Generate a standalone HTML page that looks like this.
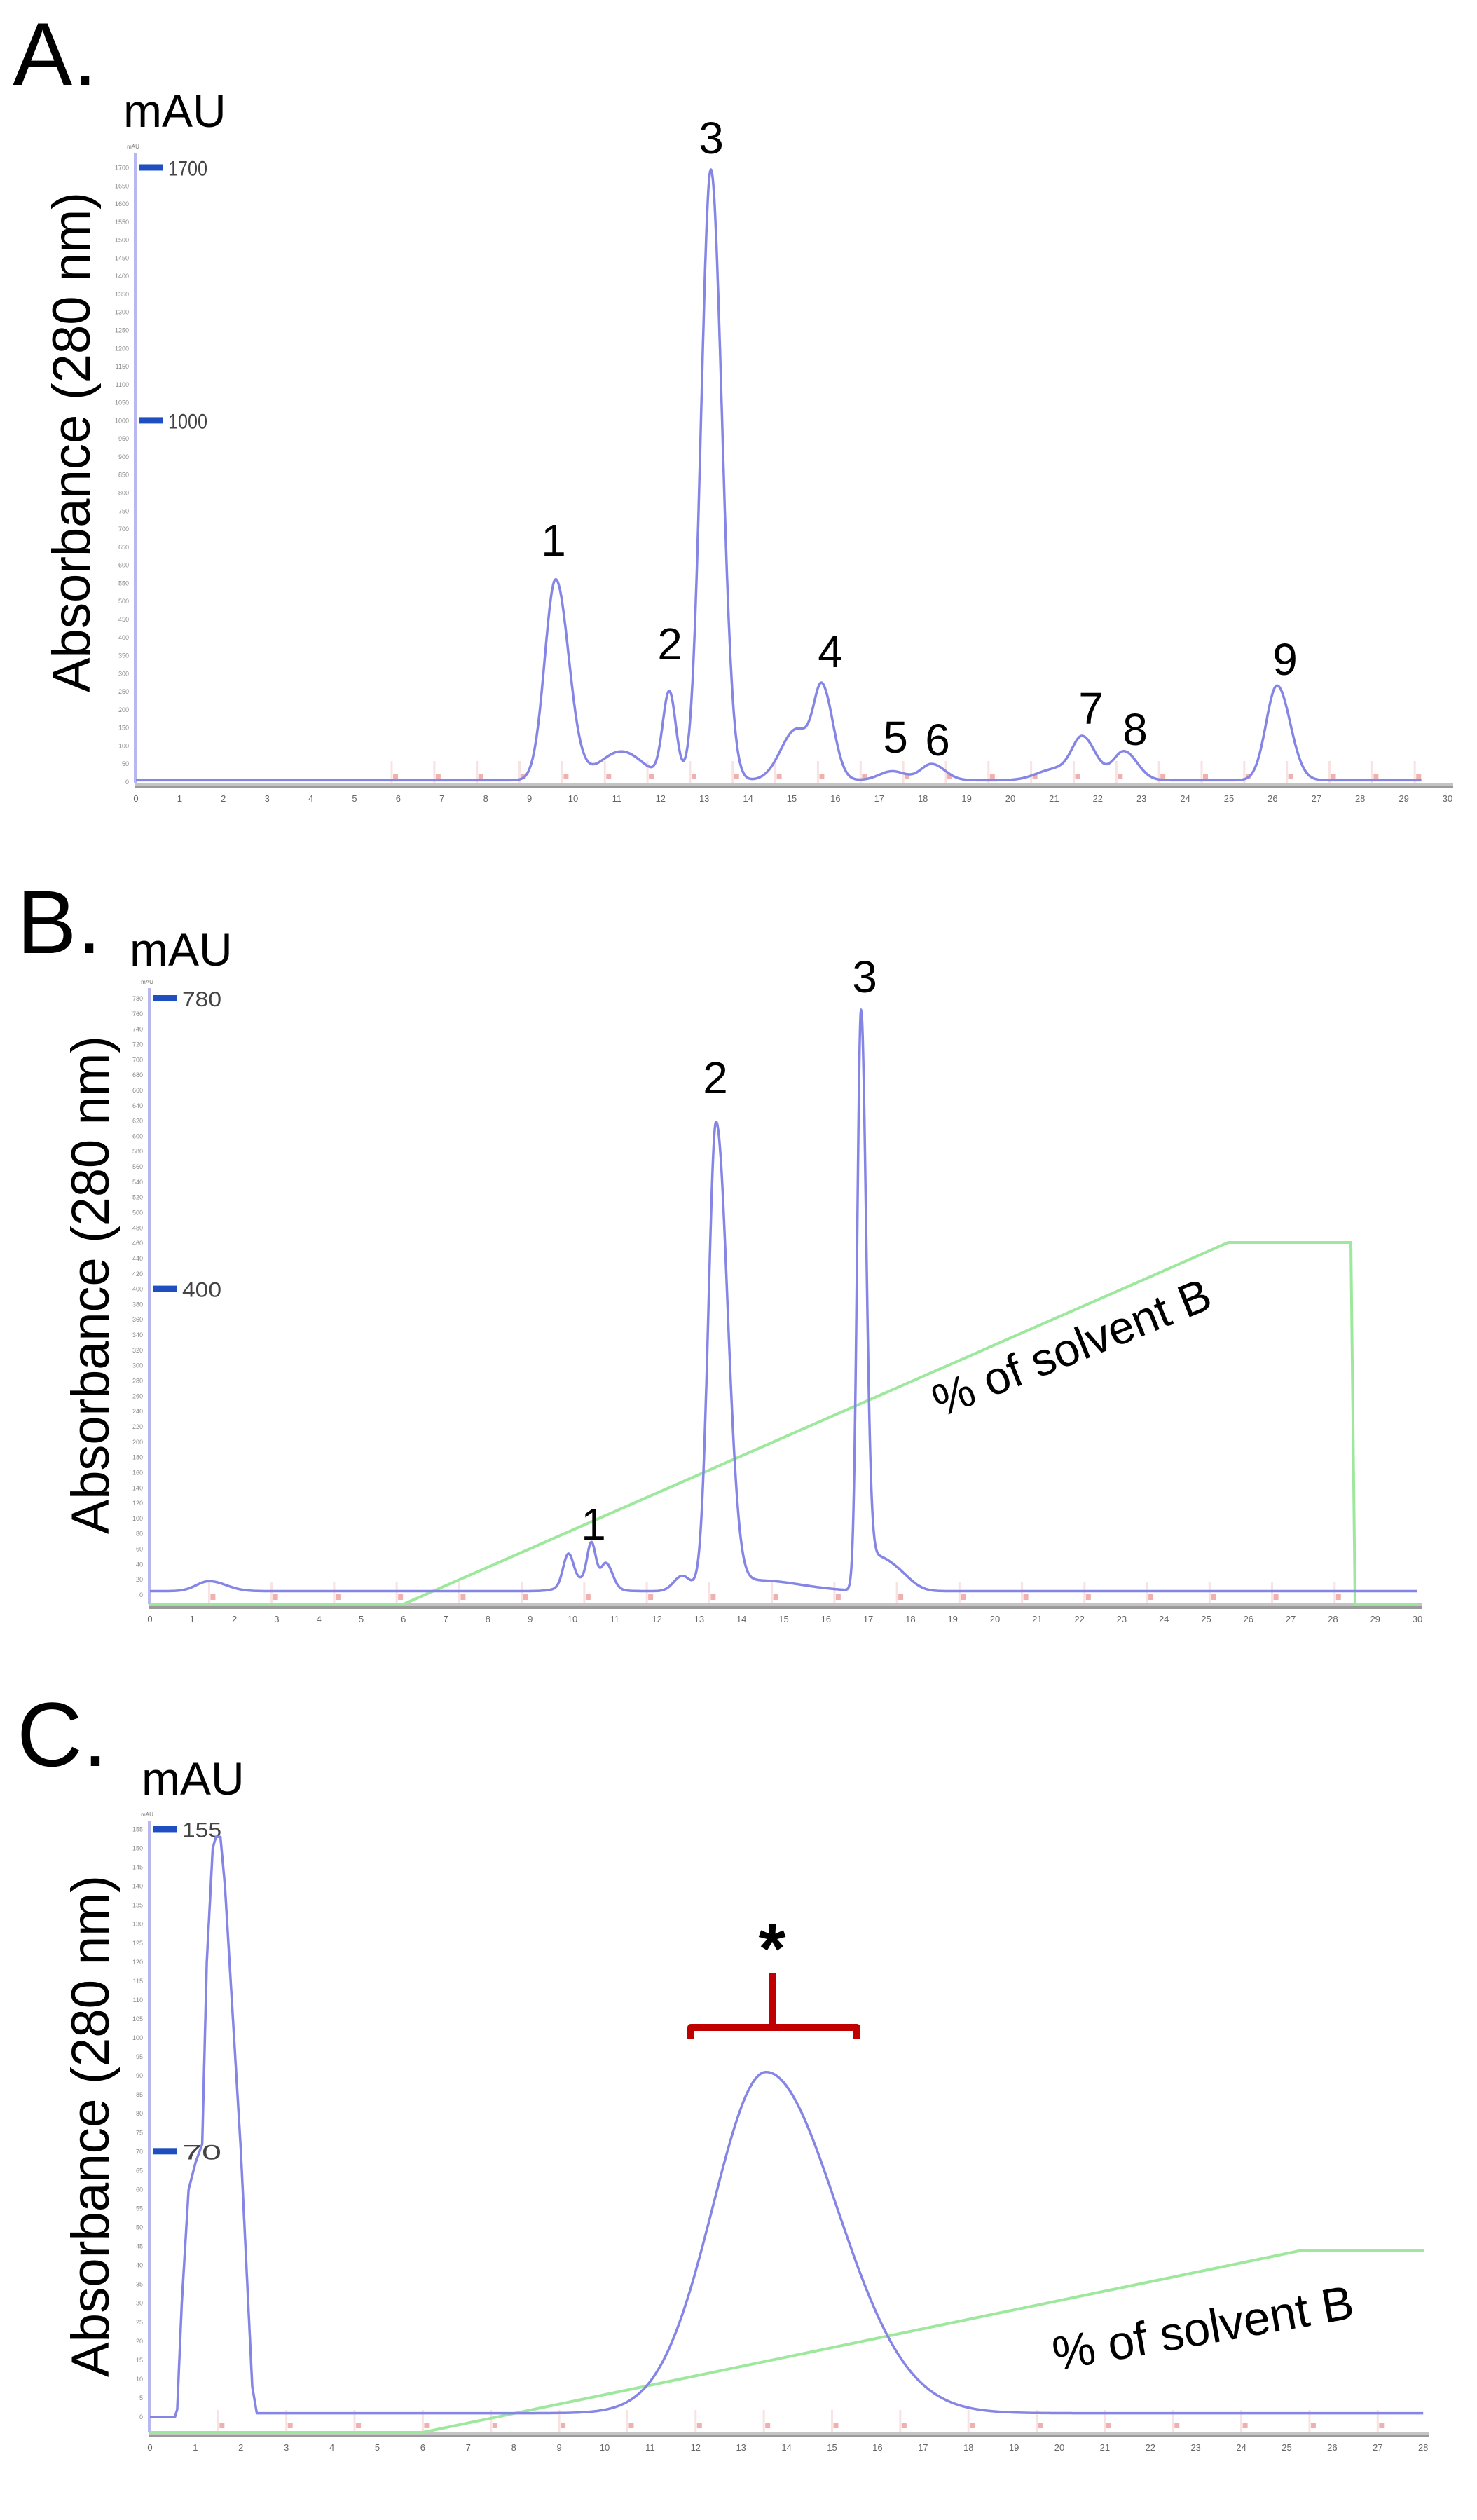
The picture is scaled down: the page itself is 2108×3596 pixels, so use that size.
<!DOCTYPE html>
<html><head><meta charset="utf-8"><style>
html,body{margin:0;padding:0;background:#fff;}
svg{display:block;}
text{font-family:"Liberation Sans",Arial,sans-serif;}
</style></head><body>
<svg id="s" width="2108" height="3596" viewBox="0 0 2108 3596" xmlns="http://www.w3.org/2000/svg">
<rect width="2108" height="3596" fill="#fff"/>
<g id="g"></g>
<text x="18" y="122" font-size="128">A.</text>
<text x="24" y="1360" font-size="128">B.</text>
<text x="24" y="2520" font-size="130">C.</text>
<text x="176" y="181" font-size="66">mAU</text>
<text x="185" y="1378" font-size="66">mAU</text>
<text x="202" y="2561" font-size="66">mAU</text>
<text transform="translate(128,988) rotate(-90)" font-size="76" textLength="714" lengthAdjust="spacingAndGlyphs">Absorbance (280 nm)</text>
<text transform="translate(155,2189) rotate(-90)" font-size="76" textLength="711" lengthAdjust="spacingAndGlyphs">Absorbance (280 nm)</text>
<text transform="translate(155,3392) rotate(-90)" font-size="76" textLength="716" lengthAdjust="spacingAndGlyphs">Absorbance (280 nm)</text>
<g font-size="64" text-anchor="middle">
<text x="790" y="793">1</text>
<text x="956" y="941">2</text>
<text x="1015" y="219">3</text>
<text x="1185" y="952">4</text>
<text x="1278" y="1074">5</text>
<text x="1338" y="1078">6</text>
<text x="1557" y="1033">7</text>
<text x="1620" y="1063">8</text>
<text x="1834" y="963">9</text>
<text x="847" y="2197">1</text>
<text x="1021" y="1560">2</text>
<text x="1234" y="1416">3</text>
</g>
<text transform="translate(1538,1944) rotate(-22)" font-size="66" text-anchor="middle">% of solvent B</text>
<text transform="translate(1721,3345) rotate(-10)" font-size="68" text-anchor="middle">% of solvent B</text>
<path d="M986,2910 L986,2893 L1223,2893 L1223,2910 M1102,2893 L1102,2815" stroke="#c00000" stroke-width="10" fill="none" stroke-linejoin="round"/>
<text x="1102" y="2815" font-size="100" font-weight="bold" text-anchor="middle">*</text>
</svg>
<script>
(function(){
var NS="http://www.w3.org/2000/svg",g=document.getElementById('g');
function el(n,a,t){var e=document.createElementNS(NS,n);for(var k in a)e.setAttribute(k,a[k]);if(t!==undefined)e.textContent=t;g.appendChild(e);return e;}
function asym(t,c){var d=t-c[0],s=d<0?c[2]:c[3];return c[1]*Math.exp(-d*d/(2*s*s));}
function panel(P){
 var X=function(t){return P.x0+t*P.pm;},Y=function(v){return P.y0-v*P.pu;};
 for(var f=P.f0;f<=P.f1;f+=P.fs){var fx=X(f);
  el('line',{x1:fx,y1:P.ax-32,x2:fx,y2:P.ax,stroke:'#f9e2e2','stroke-width':3});
  el('rect',{x:fx+2,y:P.ax-14,width:7,height:8,fill:'#f0b0b0'});}
 el('rect',{x:P.x0-2,y:P.ax-1,width:P.xe-P.x0+6,height:4,fill:'#c4c4c4'});
 el('rect',{x:P.x0-2,y:P.ax+3,width:P.xe-P.x0+6,height:4,fill:'#9a9a9a'});
 for(var i=0;i<=P.nx;i++){el('text',{x:X(i),y:P.ax+26,'font-size':13,fill:'#666','text-anchor':'middle'},String(i));}
 el('rect',{x:P.x0-3,y:P.ytop,width:5,height:P.ax-P.ytop,fill:'#b8b8f0'});
 el('text',{x:P.x0-4,y:P.ytop-6,'font-size':8,fill:'#777','text-anchor':'middle'},'mAU');
 for(var v=0;v<=P.ymax;v+=P.ys){el('text',{x:P.x0-10,y:Y(v)+3,'font-size':9,fill:'#888','text-anchor':'end'},String(v));}
 P.big.forEach(function(v){el('rect',{x:P.x0+5,y:Y(v)-5,width:33,height:9,fill:'#1e4fc0'});
  el('text',{x:P.x0+46,y:Y(v)+11,'font-size':30,fill:'#444',textLength:56,lengthAdjust:'spacingAndGlyphs'},String(v));});
 if(P.green)el('polyline',{points:P.green,fill:'none',stroke:'#9ee89e','stroke-width':4});
 var d='';for(var t=P.t0;t<=P.t1+1e-9;t+=0.01){var v2=P.fn(t);d+=(d?'L':'M')+X(t).toFixed(1)+','+Y(v2).toFixed(1);}
 el('path',{d:d,fill:'none',stroke:'#8585e6','stroke-width':3.5,'stroke-linejoin':'round'});
}
var A=[[9.6,555,.25,.3],[11.1,80,.5,.5],[12.2,240,.15,.15],[13.15,1690,.22,.25],[15.1,140,.35,.3],[15.7,250,.2,.25],[17.3,25,.3,.3],[18.2,45,.25,.3],[21.0,30,.4,.3],[21.65,120,.25,.3],[22.6,80,.25,.3],[26.1,262,.25,.3]];
panel({x0:194,y0:1116,pm:62.4,pu:0.5156,ax:1118,xe:2070,nx:30,ytop:218,ymax:1700,ys:50,big:[1700,1000],
 f0:5.85,f1:29.3,fs:0.975,t0:0,t1:29.4,fn:function(t){var s=5;A.forEach(function(c){s+=asym(t,c);});return s;}});
var B=[[1.4,13,.3,.4],[9.9,40,.12,.12],[10.45,50,.1,.1],[10.8,30,.12,.15],[10.3,15,.4,.4],[12.6,20,.2,.2],[13.4,612,.18,.27],[14.4,14,.5,1.0],[16.83,755,.09,.12],[17.15,45,.15,.45],[17.8,10,.3,.3]];
panel({x0:214,y0:2276,pm:60.3,pu:1.091,ax:2289,xe:2025,nx:30,ytop:1410,ymax:780,ys:20,big:[780,400],
 f0:1.4,f1:28.6,fs:1.48,t0:0,t1:30,fn:function(t){var s=5;B.forEach(function(c){s+=asym(t,c);});return s;},
 green:"214,2289 576,2289 1753,1773 1928,1773 1934,2289 2022,2289"});
var cp=[[0,0],[0.55,0],[0.6,2],[0.7,30],[0.85,60],[1.0,67],[1.15,72],[1.25,120],[1.38,150],[1.45,153],[1.55,153],[1.65,140],[2.0,70],[2.25,8],[2.35,1],[2.5,1]];
panel({x0:214,y0:3449,pm:64.9,pu:5.41,ax:3471,xe:2035,nx:28,ytop:2598,ymax:155,ys:5,big:[155,70],
 f0:1.5,f1:27.5,fs:1.5,t0:0,t1:28,fn:function(t){
  if(t<2.5){for(var i=1;i<cp.length;i++){if(t<=cp[i][0]){var a=cp[i-1],b=cp[i];return a[1]+(b[1]-a[1])*(t-a[0])/(b[0]-a[0]);}}return 1;}
  return 1+asym(t,[13.55,90,1.17,1.55]);},
 green:"214,3471 603,3471 1854,3212 2032,3212"});
})();
</script>
</body></html>
